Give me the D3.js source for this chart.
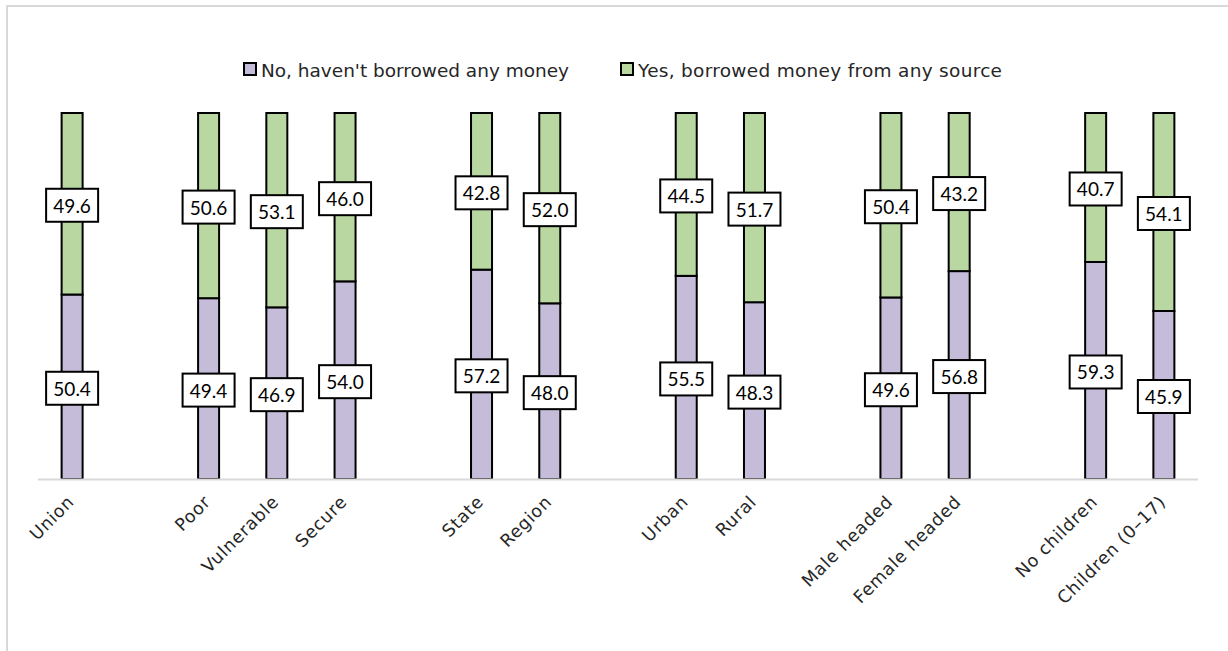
<!DOCTYPE html>
<html>
<head>
<meta charset="utf-8">
<script src="https://cdn.jsdelivr.net/npm/d3@7"></script>
<style>
  body { margin: 0; background: #fff; }
  svg { display: block; }
</style>
</head>
<body>
<svg id="chart" width="1228" height="651"></svg>
<script>
// Household groups; empty strings are spacer slots between groups
const categories = ["Union", "", "Poor", "Vulnerable", "Secure", "", "State", "Region", "",
  "Urban", "Rural", "", "Male headed", "Female headed", "", "No children", "Children (0\u201317)"];
const seriesNames = ["No, haven't borrowed any money", "Yes, borrowed money from any source"];
const notBorrowed = [50.4, null, 49.4, 46.9, 54.0, null, 57.2, 48.0, null, 55.5, 48.3, null, 49.6, 56.8, null, 59.3, 45.9];
const borrowed    = [49.6, null, 50.6, 53.1, 46.0, null, 42.8, 52.0, null, 44.5, 51.7, null, 50.4, 43.2, null, 40.7, 54.1];
const colors = ["#c4bcd8", "#b9d7a1"];

const svg = d3.select("#chart");
const W = 1228, H = 651;

// outer frame
svg.append("rect").attr("x", 7).attr("y", 6).attr("width", W + 10).attr("height", H + 10)
  .attr("fill", "none").attr("stroke", "#d9d9d9").attr("stroke-width", 2);

const plot = { left: 38, right: 1198, top: 113, bottom: 479 };

const x = d3.scaleBand().domain(d3.range(categories.length))
  .range([plot.left, plot.right]).paddingInner(0.69).paddingOuter(0.345);
const y = d3.scaleLinear().domain([0, 100]).range([plot.bottom, plot.top]);

const rows = categories.map((c, i) => ({ i, c, no: notBorrowed[i], yes: borrowed[i] }))
  .filter(d => d.no != null);

const bw = 21;
const g = svg.append("g");

// axis baseline
svg.append("line").attr("x1", plot.left).attr("x2", plot.right)
  .attr("y1", plot.bottom + 0.5).attr("y2", plot.bottom + 0.5)
  .attr("stroke", "#d9d9d9").attr("stroke-width", 2);

const cx = i => x(i) + x.bandwidth() / 2;

rows.forEach(d => {
  const segs = [
    { v0: 0, v1: d.no, color: colors[0] },
    { v0: d.no, v1: d.no + d.yes, color: colors[1] }
  ];
  segs.forEach(s => {
    g.append("rect")
      .attr("x", cx(d.i) - bw / 2)
      .attr("y", y(s.v1))
      .attr("width", bw)
      .attr("height", y(s.v0) - y(s.v1))
      .attr("fill", s.color)
      .attr("stroke", "#000").attr("stroke-width", 2);
  });
});

// value labels in boxes at segment centres
rows.forEach(d => {
  const segs = [
    { mid: d.no / 2, val: d.no },
    { mid: d.no + d.yes / 2, val: d.yes }
  ];
  segs.forEach(s => {
    const yc = y(s.mid) + 1.5;
    const bx = 52, by = 33;
    g.append("rect")
      .attr("x", cx(d.i) - bx / 2).attr("y", yc - by / 2)
      .attr("width", bx).attr("height", by)
      .attr("fill", "#fff").attr("stroke", "#000").attr("stroke-width", 2);
    g.append("text")
      .attr("x", cx(d.i)).attr("y", yc)
      .attr("text-anchor", "middle").attr("dominant-baseline", "central")
      .attr("font-family", "Lato, 'Liberation Sans', sans-serif")
      .attr("font-size", 19).attr("fill", "#000")
      .text(s.val.toFixed(1));
  });
});

// category labels, rotated
const labelFont = "'DejaVu Sans', sans-serif";
svg.append("g").selectAll("text").data(rows).join("text")
  .attr("transform", d => `translate(${cx(d.i) + 3},${plot.bottom + 24}) rotate(-45)`)
  .attr("text-anchor", "end")
  .attr("font-family", labelFont).attr("font-size", 17.5).attr("letter-spacing", 0.7)
  .attr("fill", "#262626")
  .text(d => d.c);

// legend
const legend = svg.append("g").attr("transform", "translate(243,69)");
const legendX = [0, 377];
const legendLen = [308, 364];
seriesNames.forEach((n, k) => {
  const lg = legend.append("g").attr("transform", `translate(${legendX[k]},0)`);
  lg.append("rect").attr("x", 1).attr("y", -6).attr("width", 12).attr("height", 12)
    .attr("fill", colors[k]).attr("stroke", "#000").attr("stroke-width", 2);
  lg.append("text").attr("x", 18).attr("y", 1).attr("dominant-baseline", "central")
    .attr("font-family", labelFont).attr("font-size", 18.5).attr("fill", "#262626")
    .attr("textLength", legendLen[k]).attr("lengthAdjust", "spacing")
    .text(n);
});
</script>
</body>
</html>
